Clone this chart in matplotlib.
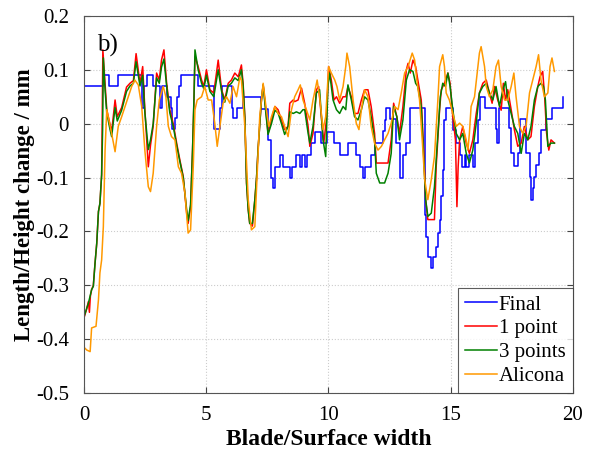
import matplotlib
matplotlib.use("Agg")
import matplotlib.pyplot as plt

# ---- data ----
# "Final" is a step profile: x where each level starts, and the level
final_x = [0, 0.78, 1.04, 1.41, 2.37, 2.45, 2.57, 2.82, 3.1, 3.2, 3.39, 3.55, 3.62, 3.72, 3.82,
           3.9, 3.98, 4.66, 5.31, 5.58, 5.66, 6.05, 6.1, 6.25, 6.5, 7.26, 7.53, 7.67, 7.72, 7.81,
           8.01, 8.15, 8.42, 8.53, 8.69, 8.85, 8.92, 9.05, 9.12, 9.3, 9.44, 9.71, 9.94, 10.22,
           10.46, 10.8, 11.14, 11.28, 11.41, 11.48, 11.75, 11.89, 12.23, 12.3, 12.37, 12.51,
           12.78, 12.91, 13.05, 13.19, 13.32, 13.94, 14.0, 14.07, 14.21, 14.28, 14.41, 14.48,
           14.55, 14.62, 14.68, 14.75, 14.82, 15.09, 15.23, 15.37, 15.48, 15.57, 15.64, 15.75,
           15.91, 15.98, 16.12, 16.21, 16.39, 16.86, 16.9, 17.0, 17.38, 17.48, 17.61, 17.75,
           17.85, 18.09, 18.23, 18.3, 18.36, 18.43, 18.5, 18.61, 18.7, 18.91, 19.15, 19.59, 19.62]
final_y = [0.07, 0.09, 0.07, 0.09, 0.03, 0.07, 0.09, 0.07, 0.03, 0.07, 0.05, 0.03, -0.01, 0.01, 0.05,
           0.07, 0.09, 0.07, -0.01, 0.03, 0.07, 0.03, 0.01, 0.03, 0.05, 0.027, -0.03, -0.1, -0.12, -0.08,
           -0.058, -0.08, -0.1, -0.08, -0.058, -0.08, -0.058, -0.08, -0.058, -0.036, -0.015, -0.036, -0.015, -0.036,
           -0.058, -0.036, -0.058, -0.08, -0.1, -0.08, -0.058, -0.036, -0.013, 0.007, 0.029, 0.008,
           -0.036, -0.1, -0.058, -0.036, 0.029, -0.17, -0.21, -0.247, -0.268, -0.247, -0.228, -0.203,
           -0.179, -0.135, -0.086, 0.007, 0.029, -0.012, -0.036, -0.058, -0.08, -0.058, -0.08, -0.058,
           -0.08, -0.036, 0.007, 0.05, 0.029, -0.01, -0.036, 0.029, -0.008, -0.055, -0.078, -0.055,
           0.008, -0.055, -0.098, -0.141, -0.12, -0.098, -0.076, -0.055, -0.012, 0.008, 0.029, 0.05, 0.05]

one_x = [0.0, 0.1, 0.18, 0.22, 0.26, 0.31, 0.38, 0.45, 0.52, 0.59, 0.65, 0.72, 0.74, 0.77, 0.86,
         0.93, 1.13, 1.27, 1.36, 1.54, 1.74, 1.88, 2.02, 2.13, 2.29, 2.4, 2.49, 2.63, 2.72, 2.83,
         2.97, 3.08, 3.17, 3.27, 3.38, 3.51, 3.65, 3.79, 3.92, 4.06, 4.2, 4.26, 4.36, 4.44, 4.5,
         4.54, 4.67, 4.81, 4.9, 5.01, 5.15, 5.31, 5.49, 5.63, 5.76, 5.9, 6.03, 6.17, 6.31, 6.44,
         6.51, 6.58, 6.65, 6.72, 6.78, 6.89, 6.99, 7.06, 7.12, 7.26, 7.33, 7.44, 7.53, 7.67, 7.81,
         7.94, 8.08, 8.21, 8.35, 8.42, 8.56, 8.62, 8.76, 8.9, 9.03, 9.17, 9.24, 9.37, 9.51, 9.6,
         9.71, 9.81, 9.92, 10.01, 10.12, 10.23, 10.33, 10.46, 10.6, 10.71, 10.8, 10.94, 11.07,
         11.21, 11.35, 11.48, 11.62, 11.75, 11.89, 11.96, 12.44, 12.57, 12.67, 12.8, 12.91, 13.05,
         13.19, 13.26, 13.35, 13.46, 13.57, 13.66, 13.8, 13.9, 13.98, 14.07, 14.34, 14.41, 14.55,
         14.62, 14.75, 14.89, 14.98, 15.09, 15.2, 15.26, 15.31, 15.37, 15.5, 15.64, 15.77, 15.91,
         16.05, 16.18, 16.32, 16.46, 16.59, 16.7, 16.8, 16.93, 17.07, 17.16, 17.25, 17.34, 17.48,
         17.61, 17.75, 17.89, 18.02, 18.16, 18.29, 18.43, 18.57, 18.66, 18.77, 18.85, 18.93,
         19.02, 19.11, 19.25]
one_y = [-0.36, -0.345, -0.33, -0.35, -0.32, -0.308, -0.3, -0.259, -0.222, -0.163, -0.148, -0.095, -0.012, 0.137, 0.075,
         0.026, -0.015, 0.044, 0.013, 0.03, 0.068, 0.075, 0.08, 0.13, 0.075, 0.106, 0.026, -0.08, -0.04, -0.005,
         0.094, 0.081, 0.118, 0.137, 0.075, 0.026, 0.0, -0.036, -0.067, -0.098, -0.166, -0.185, -0.154, -0.049, 0.044,
         0.125, 0.106, 0.081, 0.069, 0.1, 0.063, 0.057, 0.118, 0.063, 0.044, 0.075, 0.081, 0.094, 0.087, 0.109,
         0.075, 0.013, -0.11, -0.16, -0.185, -0.19, -0.141, -0.1, -0.049, 0.044, 0.072, 0.026, -0.018, 0.007, 0.032,
         0.026, 0.007, -0.011, -0.005, 0.038, 0.044, 0.041, 0.044, 0.066, 0.038, -0.005, -0.042, -0.018, 0.063, 0.069,
         0.013, -0.036, 0.007, 0.106, 0.081, 0.044, 0.05, 0.038, 0.05, 0.05, 0.069, 0.05, 0.019,
         0.019, 0.044, 0.063, 0.063, 0.032, -0.018, -0.073, -0.073, -0.03, 0.038, 0.013, -0.018, 0.032,
         0.1, 0.112, 0.094, 0.118, 0.106, 0.081, 0.044, -0.049, -0.141, -0.178, -0.178, -0.08, 0.026,
         0.063, 0.075, 0.094, 0.075, 0.013, -0.03, -0.154, -0.08, -0.03, -0.005, -0.036, -0.055, -0.03,
         0.019, 0.057, 0.075, 0.081, 0.057, 0.038, 0.069, 0.044, 0.025, 0.075, 0.044, 0.063, 0.026,
         -0.011, -0.042, -0.036, -0.005, -0.03, -0.024, 0.032, 0.069, 0.087, 0.097, 0.05, -0.018,
         -0.049, -0.03, -0.036]

three_x = [0.0, 0.18, 0.31, 0.38, 0.45, 0.52, 0.59, 0.65, 0.72, 0.76, 0.79, 0.86, 0.93, 1.06, 1.13,
           1.27, 1.36, 1.54, 1.74, 1.88, 2.02, 2.13, 2.29, 2.4, 2.49, 2.63, 2.72, 2.83, 2.97, 3.08,
           3.17, 3.27, 3.38, 3.51, 3.65, 3.79, 3.92, 4.06, 4.2, 4.26, 4.36, 4.44, 4.5, 4.54, 4.67,
           4.81, 4.9, 5.01, 5.15, 5.31, 5.49, 5.63, 5.76, 5.9, 6.03, 6.17, 6.31, 6.44, 6.51, 6.58,
           6.65, 6.72, 6.78, 6.89, 6.99, 7.06, 7.12, 7.26, 7.33, 7.44, 7.53, 7.67, 7.81, 7.94, 8.08,
           8.21, 8.35, 8.42, 8.56, 8.69, 8.83, 8.96, 9.03, 9.17, 9.24, 9.37, 9.51, 9.64, 9.78, 9.89,
           9.98, 10.05, 10.19, 10.33, 10.46, 10.6, 10.71, 10.8, 10.94, 11.07, 11.21, 11.35, 11.48,
           11.62, 11.75, 11.89, 11.96, 12.1, 12.3, 12.44, 12.57, 12.67, 12.8, 12.91, 13.05, 13.19,
           13.32, 13.46, 13.57, 13.66, 13.8, 13.9, 13.98, 14.07, 14.21, 14.34, 14.48, 14.58, 14.68,
           14.79, 14.89, 14.98, 15.09, 15.23, 15.37, 15.5, 15.64, 15.77, 15.91, 16.05, 16.18, 16.32,
           16.46, 16.59, 16.73, 16.86, 17.0, 17.14, 17.25, 17.34, 17.48, 17.61, 17.75, 17.89, 18.02,
           18.16, 18.29, 18.43, 18.57, 18.7, 18.8, 18.88, 18.98, 19.11, 19.25]
three_y = [-0.358, -0.333, -0.308, -0.302, -0.259, -0.222, -0.163, -0.148, -0.095, -0.012, 0.122, 0.063, 0.02, -0.01, -0.024,
           0.03, 0.005, 0.025, 0.06, 0.07, 0.075, 0.115, 0.07, 0.09, 0.02, -0.048, -0.03, 0.0, 0.085, 0.075,
           0.105, 0.12, 0.07, 0.02, -0.005, -0.04, -0.07, -0.1, -0.16, -0.18, -0.15, -0.05, 0.05, 0.137, 0.1,
           0.075, 0.065, 0.09, 0.06, 0.05, 0.1, 0.06, 0.04, 0.07, 0.075, 0.085, 0.08, 0.1, 0.07, 0.01,
           -0.11, -0.16, -0.185, -0.185, -0.141, -0.1, -0.049, 0.044, 0.072, 0.02, -0.02, 0.0, 0.025, 0.02, 0.0,
           -0.02, -0.005, 0.022, 0.019, 0.022, 0.019, 0.026, 0.026, -0.018, -0.036, -0.005, 0.057, 0.063, -0.03, -0.061,
           0.069, 0.094, 0.044, 0.026, 0.019, 0.032, 0.026, 0.072, 0.044, 0.013, 0.007, 0.026, 0.05,
           0.044, 0.013, -0.03, -0.092, -0.11, -0.11, -0.092, -0.055, 0.032, 0.013, -0.03, 0.007, 0.081,
           0.1, 0.097, 0.075, 0.069, 0.032, -0.061, -0.141, -0.172, -0.166, -0.117, -0.018, 0.05, 0.075,
           0.069, 0.094, 0.069, 0.026, -0.018, -0.03, -0.018, -0.055, -0.073, -0.049, 0.001, 0.057, 0.069,
           0.075, 0.057, 0.044, 0.069, 0.032, 0.063, 0.078, 0.044, 0.019, -0.005, -0.018, -0.055, -0.018,
           -0.03, -0.005, 0.044, 0.069, 0.075, 0.069, 0.044, -0.042, -0.036, -0.036]

alicona_x = [0.0, 0.11, 0.25, 0.31, 0.49, 0.59, 0.65, 0.72, 0.79, 0.86, 0.93, 0.99, 1.13, 1.27, 1.4,
             1.54, 1.68, 1.81, 1.95, 2.08, 2.22, 2.36, 2.49, 2.63, 2.72, 2.83, 2.97, 3.08, 3.24, 3.35,
             3.45, 3.58, 3.72, 3.86, 3.99, 4.13, 4.26, 4.36, 4.47, 4.54, 4.63, 4.81, 4.94, 5.08, 5.22,
             5.35, 5.45, 5.56, 5.69, 5.83, 5.97, 6.1, 6.24, 6.38, 6.44, 6.58, 6.72, 6.85, 6.99, 7.06,
             7.19, 7.33, 7.46, 7.56, 7.67, 7.81, 7.94, 8.08, 8.21, 8.35, 8.49, 8.62, 8.76, 8.85, 8.96,
             9.1, 9.24, 9.37, 9.54, 9.64, 9.78, 9.89, 10.01, 10.12, 10.26, 10.35, 10.46, 10.6, 10.71,
             10.76, 10.87, 11.01, 11.14, 11.25, 11.35, 11.48, 11.62, 11.75, 11.89, 12.03, 12.17, 12.3,
             12.44, 12.57, 12.71, 12.85, 12.98, 13.12, 13.26, 13.43, 13.53, 13.62, 13.73, 13.84, 13.94,
             14.07, 14.21, 14.34, 14.48, 14.55, 14.68, 14.75, 14.82, 14.95, 15.09, 15.23, 15.37, 15.5,
             15.64, 15.71, 15.77, 15.84, 15.98, 16.12, 16.18, 16.25, 16.32, 16.39, 16.46, 16.59, 16.73,
             16.86, 16.96, 17.07, 17.21, 17.34, 17.48, 17.59, 17.68, 17.82, 17.95, 18.09, 18.23, 18.36,
             18.5, 18.6, 18.7, 18.84, 18.98, 19.07, 19.15, 19.25]
alicona_y = [-0.415, -0.42, -0.423, -0.379, -0.376, -0.327, -0.277, -0.253, -0.191, -0.05, 0.026, 0.013, -0.018, -0.052, -0.005,
             0.013, 0.032, 0.05, 0.069, 0.081, 0.072, 0.032, -0.05, -0.117, -0.126, -0.092, -0.005, 0.044, 0.069, 0.05,
             -0.005, -0.024, -0.03, -0.08, -0.092, -0.129, -0.203, -0.197, -0.08, 0.026, 0.044, 0.05, 0.069, 0.044, 0.044,
             0.001, -0.042, -0.005, 0.038, 0.05, 0.038, 0.069, 0.05, 0.087, 0.081, -0.005, -0.141, -0.197, -0.191, -0.12,
             0.013, 0.075, 0.026, -0.005, 0.013, 0.032, 0.019, 0.013, -0.005, -0.024, 0.026, 0.05, 0.063, 0.072, 0.044,
             0.026, 0.007, 0.044, 0.081, 0.05, -0.011, 0.013, 0.106, 0.094, 0.081, 0.069, 0.044, 0.069, 0.106,
             0.131, 0.106, 0.044, 0.001, -0.011, 0.026, 0.063, 0.05, -0.005, -0.036, -0.049, -0.042, -0.03,
             -0.018, 0.001, 0.032, 0.026, 0.057, 0.094, 0.106, 0.131, 0.118, 0.081, 0.044, -0.03, -0.104,
             -0.141, -0.104, -0.061, 0.044, 0.106, 0.128, 0.106, 0.057, 0.044, 0.019, -0.005, 0.001, -0.005,
             -0.03, -0.049, -0.018, 0.032, 0.05, 0.106, 0.131, 0.143, 0.125, 0.106, 0.069, 0.05, 0.063,
             0.106, 0.118, 0.069, 0.044, 0.044, 0.069, 0.094, 0.05, -0.005, -0.018, -0.005, 0.057, 0.081,
             0.106, 0.128, 0.081, 0.05, 0.057, 0.106, 0.122, 0.097]

series_labels = ["Final", "1 point", "3 points", "Alicona"]
yticks = [0.2, 0.1, 0, -0.1, -0.2, -0.3, -0.4, -0.5]
ytick_labels = ["0.2", "0.1", "0", "-0.1", "-0.2", "-0.3", "-0.4", "-0.5"]
xticks = [0, 5, 10, 15, 20]

plt.rcParams["font.family"] = ["Liberation Serif", "DejaVu Serif"]
plt.rcParams["axes.unicode_minus"] = False

fig = plt.figure(figsize=(5.96, 4.55), dpi=100)
ax = fig.add_axes([0.141, 0.136, 0.82, 0.829])

ax.plot(final_x, final_y, drawstyle="steps-post", color="#0000ff", lw=1.1, label=series_labels[0])
ax.plot(one_x, one_y, color="#ff0000", lw=1.1, label=series_labels[1])
ax.plot(three_x, three_y, color="#008000", lw=1.1, label=series_labels[2])
ax.plot(alicona_x, alicona_y, color="#ff9900", lw=1.1, label=series_labels[3])

ax.set_xlim(0, 20)
ax.set_ylim(-0.5, 0.2)
ax.set_xticks(xticks)
ax.set_xticklabels([str(t) for t in xticks])
ax.set_yticks(yticks)
ax.set_yticklabels(ytick_labels)
ax.tick_params(direction="in", top=True, right=True, labelsize=15, length=4, color="#444444")
ax.tick_params(axis="x", pad=9)
ax.tick_params(axis="y", pad=11)
ax.grid(True, linestyle=":", color="#cccccc", lw=0.8)
for sp in ax.spines.values():
    sp.set_color("#555555")
    sp.set_linewidth(0.8)

ax.set_xlabel("Blade/Surface width", fontsize=17, fontweight="bold", labelpad=3)
ax.set_ylabel("Length/Height change / mm", fontsize=16.5, fontweight="bold")
ax.yaxis.set_label_coords(-0.1, 0.5)
ax.text(0.027, 0.905, "b)", transform=ax.transAxes, fontsize=18, va="baseline")

leg = ax.legend(loc="lower right", fontsize=15, frameon=True, fancybox=False, handlelength=1.5,
                handletextpad=0.1, borderpad=0.35, labelspacing=0.2, borderaxespad=0)
leg.get_frame().set_edgecolor("#333333")
leg.get_frame().set_linewidth(0.8)

fig.savefig("out.png", dpi=100)
